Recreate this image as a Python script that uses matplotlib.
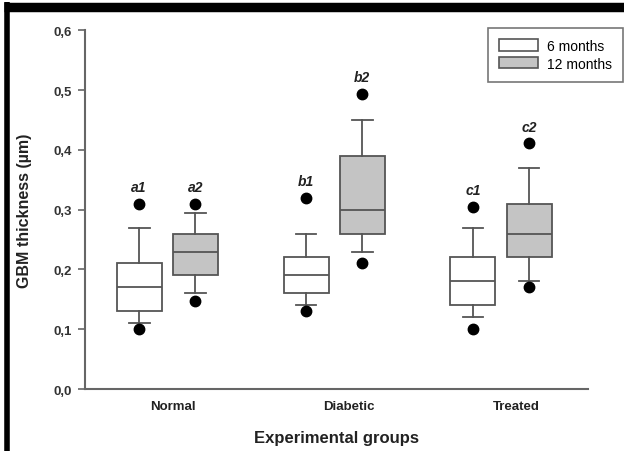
import matplotlib
matplotlib.use("Agg")
import matplotlib.pyplot as plt
from matplotlib.patches import Patch
from matplotlib.lines import Line2D

plt.rcParams['font.family'] = ['Liberation Sans', 'DejaVu Sans']

groups = ["Normal", "Diabetic", "Treated"]
series = ["6 months", "12 months"]
letters = [["a1", "a2"], ["b1", "b2"], ["c1", "c2"]]

# per group, per series: whislo, q1, med, q3, whishi, low dot, high dot
whislo = [[0.11, 0.16], [0.14, 0.23], [0.12, 0.18]]
q1 = [[0.13, 0.19], [0.16, 0.26], [0.14, 0.22]]
med = [[0.17, 0.23], [0.19, 0.30], [0.18, 0.26]]
q3 = [[0.21, 0.26], [0.22, 0.39], [0.22, 0.31]]
whishi = [[0.27, 0.295], [0.26, 0.45], [0.27, 0.37]]
low_dot = [[0.10, 0.148], [0.13, 0.211], [0.10, 0.17]]
high_dot = [[0.31, 0.31], [0.32, 0.493], [0.305, 0.411]]

yticks = [0.0, 0.1, 0.2, 0.3, 0.4, 0.5, 0.6]
ytick_labels = ["0,0", "0,1", "0,2", "0,3", "0,4", "0,5", "0,6"]

fills = ["white", "#c4c4c4"]
edge = "#555555"
txt = "#222222"

fig = plt.figure(figsize=(6.24, 4.52), dpi=100)
fig.patch.set_facecolor("white")
ax = fig.add_axes([0.136, 0.137, 0.806, 0.794])

group_pos = [1.0, 2.0, 3.0]
offset = 0.168
for gi, gp in enumerate(group_pos):
    for si in range(2):
        pos = gp + (-offset if si == 0 else offset)
        st = [dict(med=med[gi][si], q1=q1[gi][si], q3=q3[gi][si],
                   whislo=whislo[gi][si], whishi=whishi[gi][si],
                   fliers=[low_dot[gi][si], high_dot[gi][si]])]
        ax.bxp(st, positions=[pos], widths=0.27, capwidths=0.125,
               patch_artist=True, showfliers=True,
               boxprops=dict(facecolor=fills[si], edgecolor=edge, linewidth=1.3),
               medianprops=dict(color=edge, linewidth=1.3),
               whiskerprops=dict(color=edge, linewidth=1.3),
               capprops=dict(color=edge, linewidth=1.3),
               flierprops=dict(marker='o', markerfacecolor='black',
                               markeredgecolor='black', markersize=7.5))
        ax.annotate(letters[gi][si], (pos, high_dot[gi][si]),
                    xytext=(0, 7), textcoords='offset points',
                    ha='center', va='bottom', fontsize=10,
                    fontweight='bold', fontstyle='italic', color=txt)

ax.set_xlim(0.507, 3.52)
ax.set_ylim(0, 0.6)
ax.set_yticks(yticks)
ax.set_yticklabels(ytick_labels, fontsize=9.5, fontweight='bold', color="#333333")
ax.set_xticks([1.036, 2.09, 3.09])
ax.set_xticklabels(groups, fontsize=9.5, fontweight='bold', color=txt)
ax.tick_params(axis='x', length=0, pad=8)
ax.tick_params(axis='y', length=5, width=1.2, color="#666666", pad=4)
for s in ["top", "right"]:
    ax.spines[s].set_visible(False)
for s in ["left", "bottom"]:
    ax.spines[s].set_color("#666666")
    ax.spines[s].set_linewidth(1.5)
ax.set_ylabel("GBM thickness (µm)", fontsize=11.5, fontweight='bold', color=txt, labelpad=16)
ax.set_xlabel("Experimental groups", fontsize=12, fontweight='bold', color=txt, labelpad=13)

handles = [Patch(facecolor=fills[i], edgecolor=edge, linewidth=1.2, label=series[i]) for i in range(2)]
leg = fig.legend(handles=handles, loc='upper right', bbox_to_anchor=(0.998, 0.936),
                 frameon=True, fancybox=False, fontsize=10, handlelength=2.8,
                 handleheight=0.9, borderpad=0.8, labelspacing=0.25, handletextpad=0.6,
                 borderaxespad=0.0)
leg.get_frame().set_edgecolor("#555555")
leg.get_frame().set_linewidth(1.2)

# black image border (top and left)
fig.add_artist(Line2D([4/624, 1.0], [1 - 7.5/452, 1 - 7.5/452], transform=fig.transFigure,
                      color='black', linewidth=6.8, solid_capstyle='butt'))
fig.add_artist(Line2D([6.5/624, 6.5/624], [0, 1 - 3/452], transform=fig.transFigure,
                      color='black', linewidth=4.0, solid_capstyle='butt'))

fig.savefig("out.png", dpi=100, facecolor="white")
